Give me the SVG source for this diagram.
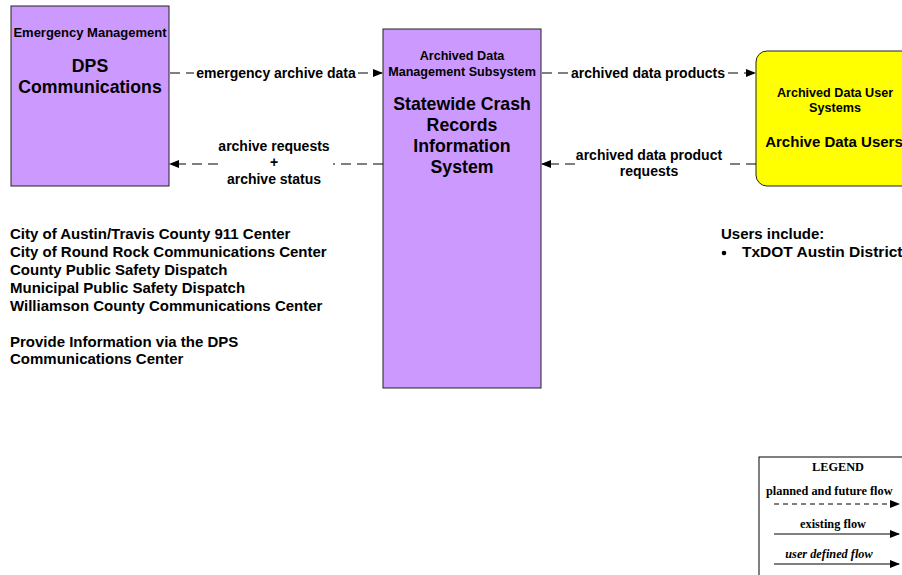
<svg xmlns="http://www.w3.org/2000/svg" width="902" height="575" viewBox="0 0 902 575">
<defs>
<marker id="ah" markerWidth="10" markerHeight="8" refX="9" refY="4" orient="auto" markerUnits="userSpaceOnUse">
<path d="M0,0 L10,4 L0,8 Z" fill="#000"/>
</marker>
<style>
.box{fill:#CC99FF;stroke:#222;stroke-width:1}
.ybox{fill:#FFFF00;stroke:#222;stroke-width:1}
.t{font-family:"Liberation Sans",Arial,sans-serif;font-weight:bold;fill:#000}
.s{font-size:12.6px}
.m{font-size:14px}
.b{font-size:15px}
.l{font-size:17.7px}
.c{text-anchor:middle}
.d{stroke:#000;stroke-width:1;fill:none;stroke-dasharray:10,6}
.sol{stroke:#000;stroke-width:1;fill:none}
.lg{font-family:"Liberation Serif","Times New Roman",serif;font-weight:bold;font-size:12.3px;fill:#000}
</style>
</defs>
<rect width="902" height="575" fill="#fff"/>

<g id="dps">
<rect class="box" x="11" y="6" width="158" height="180"/>
<text class="t c" style="font-size:13px" x="90" y="37">Emergency Management</text>
<text class="t l c" x="90" y="72">DPS</text>
<text class="t l c" x="90" y="93">Communications</text>
</g>

<g id="crash">
<rect class="box" x="383" y="29" width="158" height="359"/>
<text class="t s c" x="462" y="60">Archived Data</text>
<text class="t s c" x="462" y="76">Management Subsystem</text>
<text class="t l c" x="462" y="110">Statewide Crash</text>
<text class="t l c" x="462" y="131">Records</text>
<text class="t l c" x="462" y="152">Information</text>
<text class="t l c" x="462" y="173">System</text>
</g>

<g id="users">
<rect class="ybox" x="756" y="51" width="170" height="135" rx="11" ry="11"/>
<text class="t s c" x="835" y="97">Archived Data User</text>
<text class="t s c" x="835" y="112">Systems</text>
<text class="t c" style="font-size:15px" x="834" y="147">Archive Data Users</text>
</g>

<g id="connectors">
<path class="d" d="M170,73 H194"/>
<path class="d" d="M358,73 H382" marker-end="url(#ah)"/>
<text class="t m c" x="276" y="78">emergency archive data</text>

<path class="d" d="M383,164 H333"/>
<path class="d" d="M218,164 H170" marker-end="url(#ah)"/>
<text class="t m c" x="274" y="151">archive requests</text>
<text class="t m c" x="274" y="167">+</text>
<text class="t m c" x="274" y="184">archive status</text>

<path class="d" d="M542,73 H569"/>
<path class="d" d="M728,73 H755" marker-end="url(#ah)"/>
<text class="t m c" x="648" y="78">archived data products</text>

<path class="d" d="M756,164 H724"/>
<path class="d" d="M575,164 H542" marker-end="url(#ah)"/>
<text class="t m c" x="649" y="160">archived data product</text>
<text class="t m c" x="649" y="176">requests</text>
</g>

<g id="notes">
<text class="t b" x="10" y="239">City of Austin/Travis County 911 Center</text>
<text class="t b" x="10" y="257">City of Round Rock Communications Center</text>
<text class="t b" x="10" y="275">County Public Safety Dispatch</text>
<text class="t b" x="10" y="293">Municipal Public Safety Dispatch</text>
<text class="t b" x="10" y="311">Williamson County Communications Center</text>
<text class="t b" x="10" y="347">Provide Information via the DPS</text>
<text class="t b" x="10" y="364">Communications Center</text>

<text class="t b" x="721" y="239">Users include:</text>
<circle cx="724" cy="253" r="2.3" fill="#000"/>
<text class="t" style="font-size:15.5px" x="742" y="257">TxDOT Austin District</text>
</g>

<g id="legend">
<rect x="759" y="457" width="160" height="130" fill="#fff" stroke="#000" stroke-width="1"/>
<text class="lg c" x="838" y="471">LEGEND</text>
<text class="lg" x="766" y="495">planned and future flow</text>
<path d="M774,504 H899" stroke="#000" stroke-width="1" stroke-dasharray="5,4" marker-end="url(#ah)"/>
<text class="lg c" x="833" y="528">existing flow</text>
<path class="sol" d="M774,534 H899" marker-end="url(#ah)"/>
<text class="lg c" x="829" y="558" font-style="italic">user defined flow</text>
<path class="sol" d="M774,564 H899" marker-end="url(#ah)"/>
</g>
</svg>
